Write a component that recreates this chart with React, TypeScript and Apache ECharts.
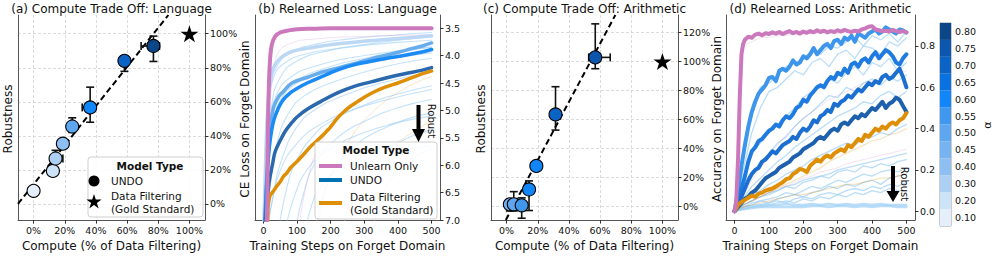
import React, { useEffect, useRef } from "react";
import * as echarts from "echarts";

const FONT = "DejaVu Sans";

// ---------- colour bar (alpha) ----------
const alphaLevels = [0.1, 0.2, 0.3, 0.4, 0.45, 0.5, 0.55, 0.6, 0.65, 0.7, 0.75, 0.8];
const alphaLabels = ["0.10", "0.20", "0.30", "0.40", "0.45", "0.50", "0.55", "0.60", "0.65", "0.70", "0.75", "0.80"];
const alphaColors = ["#e4effb", "#cde3f8", "#abd0f4", "#8dbff2", "#76b3f0", "#5ea6ef", "#3f97ee", "#1186f8", "#0a72e0", "#0b63c6", "#0c56ad", "#0b4688"];

// ---------- (a) compute trade-off: language ----------
const langCompute = [0, 12.4, 14.1, 18.8, 24.8, 36.3, 58.3, 76.9];
const langRobust = [7.7, 19.4, 26.7, 35.4, 45.5, 56.7, 84.1, 92.8];
const langAlpha = [0.1, 0.2, 0.3, 0.4, 0.5, 0.6, 0.7, 0.8];
const langXErrLo = [0, 12.4, 12.5, 18.0, 23.8, 31.2, 57.0, 69.0];
const langXErrHi = [0, 12.4, 18.8, 19.8, 25.8, 38.0, 60.0, 80.8];
const langYErrLo = [7.7, 19.4, 24.0, 33.5, 42.0, 48.0, 77.9, 83.7];
const langYErrHi = [7.7, 19.4, 31.5, 37.0, 50.6, 68.6, 87.0, 98.6];
const langFitX = [-10, 86.5];
const langFitY = [0, 111];

// gold standard
const goldCompute = [100];
const goldRobust = [100];

// ---------- (c) compute trade-off: arithmetic ----------
const arithCompute = [2.1, 4.6, 9.7, 14.4, 19.1, 31.4, 56.9];
const arithRobust = [1.6, 1.6, 0.9, 11.8, 28.0, 63.5, 102.8];
const arithAlpha = [0.45, 0.5, 0.55, 0.6, 0.6, 0.7, 0.75];
const arithXErrLo = [2.1, 4.6, 9.7, 14.4, 18.0, 31.4, 52.7];
const arithXErrHi = [2.1, 4.6, 9.7, 14.4, 20.2, 31.4, 66.5];
const arithYErrLo = [-3, -3, -8, -2.7, 26.0, 52.7, 95];
const arithYErrHi = [5, 10.3, 6, 17.7, 30.5, 82.6, 125.9];
const arithFitX = [-0.5, 69.8];
const arithFitY = [-9.2, 132];

// ---------- (b) relearned loss: language  ([step, CE loss]) ----------
const bUnlearn = [[0, 7.6], [10, 7.0], [13, 5.6], [16, 4.6], [20, 4.05], [25, 3.8], [35, 3.65], [50, 3.58], [75, 3.54], [100, 3.52], [150, 3.51], [200, 3.5], [300, 3.5], [400, 3.5], [500, 3.5]];
const bUndoLight = [[0, 7.4], [5, 6.3], [10, 5.3], [15, 4.8], [20, 4.5], [30, 4.22], [50, 4.05], [75, 3.95], [100, 3.9], [150, 3.85], [200, 3.8], [300, 3.74], [400, 3.69], [500, 3.64]];
const bUndoMid = [[0, 7.5], [5, 6.9], [10, 6.2], [15, 5.7], [20, 5.35], [30, 4.95], [45, 4.75], [60, 4.65], [85, 4.5], [130, 4.4], [175, 4.3], [225, 4.22], [275, 4.14], [325, 4.05], [375, 3.98], [425, 3.9], [475, 3.82], [500, 3.77]];
const bUndoBright = [[0, 7.6], [5, 7.0], [10, 6.3], [15, 5.85], [20, 5.55], [30, 5.2], [45, 4.95], [60, 4.8], [80, 4.68], [100, 4.6], [130, 4.5], [175, 4.38], [225, 4.25], [275, 4.16], [325, 4.1], [375, 4.04], [425, 3.99], [475, 3.93], [500, 3.89]];
const bUndoDark = [[0, 7.6], [5, 7.1], [8, 6.9], [12, 6.6], [16, 6.35], [20, 6.2], [28, 5.95], [35, 5.75], [50, 5.55], [65, 5.38], [85, 5.22], [100, 5.12], [130, 4.98], [170, 4.84], [220, 4.68], [270, 4.56], [320, 4.48], [370, 4.4], [420, 4.33], [470, 4.27], [500, 4.22]];
const bFilter = [[0, 7.6], [12, 7.05], [14, 6.75], [17, 6.62], [20, 6.55], [30, 6.47], [40, 6.38], [50, 6.3], [60, 6.2], [70, 6.14], [80, 6.05], [100, 5.93], [120, 5.8], [140, 5.66], [160, 5.55], [180, 5.43], [200, 5.3], [220, 5.14], [240, 5.02], [260, 4.92], [280, 4.84], [300, 4.76], [330, 4.66], [360, 4.58], [400, 4.5], [430, 4.43], [460, 4.36], [500, 4.28]];

const bThinBlue = [
  [[0, 7.4], [10, 5.5], [20, 4.6], [40, 4.2], [80, 3.95], [150, 3.8], [250, 3.7], [400, 3.62], [500, 3.58]],
  [[0, 7.4], [10, 6.0], [25, 4.9], [50, 4.4], [100, 4.1], [200, 3.9], [300, 3.8], [400, 3.72], [500, 3.66]],
  [[0, 7.4], [15, 6.0], [30, 5.2], [60, 4.7], [100, 4.45], [200, 4.2], [300, 4.05], [400, 3.93], [500, 3.84]],
  [[0, 7.4], [20, 6.4], [40, 5.6], [80, 5.0], [130, 4.7], [200, 4.5], [300, 4.3], [400, 4.15], [500, 4.05]],
  [[10, 7.4], [30, 6.5], [60, 5.8], [100, 5.3], [150, 5.0], [250, 4.7], [350, 4.5], [500, 4.3]],
  [[40, 7.4], [70, 6.4], [100, 5.9], [150, 5.45], [200, 5.2], [300, 4.9], [400, 4.7], [500, 4.55]],
  [[90, 7.4], [120, 6.5], [160, 5.9], [220, 5.5], [300, 5.2], [400, 4.95], [500, 4.8]],
  [[150, 7.4], [180, 6.5], [220, 6.0], [280, 5.6], [350, 5.35], [430, 5.15], [500, 5.05]],
  [[230, 7.4], [260, 6.6], [300, 6.1], [360, 5.75], [430, 5.5], [500, 5.35]],
  [[320, 7.4], [350, 6.6], [400, 6.1], [450, 5.85], [500, 5.7]],
  [[0, 7.4], [8, 5.8], [15, 4.9], [30, 4.4], [60, 4.15], [120, 3.98], [250, 3.85], [400, 3.76], [500, 3.72]],
  [[0, 7.4], [25, 6.7], [50, 6.1], [100, 5.6], [170, 5.25], [260, 5.0], [370, 4.8], [500, 4.62]],
  [[60, 7.4], [90, 6.6], [140, 6.0], [200, 5.7], [280, 5.45], [380, 5.25], [500, 5.1]],
  [[0, 7.4], [12, 6.2], [25, 5.4], [50, 4.85], [100, 4.5], [200, 4.25], [320, 4.1], [500, 3.95]],
  [[120, 7.4], [140, 6.8], [170, 6.4], [220, 6.1], [300, 5.9], [400, 5.75], [500, 5.65]],
  [[0, 7.4], [5, 6.5], [10, 5.9], [20, 5.2], [40, 4.7], [80, 4.4], [150, 4.2], [300, 4.0], [500, 3.85]],
];
const bThinPink = [
  [[0, 7.4], [15, 5.5], [25, 4.5], [40, 4.0], [80, 3.78], [150, 3.7], [300, 3.65], [500, 3.62]],
  [[100, 7.4], [130, 6.3], [170, 5.6], [230, 5.1], [320, 4.7], [420, 4.45], [500, 4.3]],
];
const bThinOrange = [
  [[150, 7.4], [200, 6.2], [260, 5.5], [330, 5.0], [420, 4.6], [500, 4.38]],
  [[250, 7.4], [300, 6.4], [360, 5.8], [430, 5.45], [500, 5.2]],
];

// ---------- (d) relearned accuracy: arithmetic ----------
const dSteps10 = [0, 10, 20, 30, 40, 50, 60, 70, 80, 90, 100, 110, 120, 130, 140, 150, 160, 170, 180, 190, 200, 210, 220, 230, 240, 250, 260, 270, 280, 290, 300, 310, 320, 330, 340, 350, 360, 370, 380, 390, 400, 410, 420, 430, 440, 450, 460, 470, 480, 490, 500];
const dSteps25 = [0, 25, 50, 75, 100, 125, 150, 175, 200, 225, 250, 275, 300, 325, 350, 375, 400, 425, 450, 475, 500];
const dUnlearnSteps = [0, 5, 10, 15, 20, 25, 30, 40, 50, 60, 70, 80, 90, 100, 110, 120, 130, 140, 150, 160, 170, 180, 190, 200, 210, 220, 230, 240, 250, 260, 270, 280, 290, 300, 310, 320, 330, 340, 350, 360, 370, 380, 390, 400, 410, 420, 430, 440, 450, 460, 470, 480, 490, 500];
const dUnlearn = [0, 0.05, 0.25, 0.55, 0.76, 0.81, 0.83, 0.845, 0.84, 0.855, 0.86, 0.852, 0.862, 0.858, 0.866, 0.86, 0.868, 0.858, 0.866, 0.872, 0.862, 0.868, 0.86, 0.87, 0.864, 0.872, 0.866, 0.876, 0.868, 0.874, 0.866, 0.872, 0.868, 0.876, 0.87, 0.878, 0.872, 0.868, 0.874, 0.87, 0.88, 0.885, 0.893, 0.896, 0.88, 0.876, 0.872, 0.874, 0.87, 0.878, 0.872, 0.868, 0.872, 0.866];
const dUndo1 = [0, 0.1, 0.22, 0.32, 0.41, 0.48, 0.53, 0.57, 0.59, 0.61, 0.645, 0.65, 0.63, 0.68, 0.69, 0.68, 0.7, 0.73, 0.71, 0.72, 0.75, 0.74, 0.76, 0.79, 0.76, 0.78, 0.8, 0.81, 0.79, 0.825, 0.83, 0.81, 0.84, 0.83, 0.85, 0.82, 0.86, 0.85, 0.84, 0.86, 0.87, 0.88, 0.86, 0.87, 0.89, 0.88, 0.87, 0.86, 0.88, 0.875, 0.865];
const dUndo2 = [0, 0.05, 0.11, 0.17, 0.24, 0.29, 0.31, 0.34, 0.35, 0.37, 0.39, 0.4, 0.42, 0.41, 0.44, 0.46, 0.45, 0.47, 0.5, 0.51, 0.54, 0.53, 0.56, 0.58, 0.6, 0.61, 0.6, 0.63, 0.65, 0.64, 0.67, 0.66, 0.69, 0.67, 0.71, 0.72, 0.7, 0.73, 0.74, 0.72, 0.75, 0.77, 0.74, 0.76, 0.78, 0.77, 0.75, 0.72, 0.71, 0.74, 0.76];
const dUndo3 = [0, 0.03, 0.07, 0.11, 0.15, 0.18, 0.2, 0.21, 0.24, 0.25, 0.27, 0.29, 0.28, 0.3, 0.32, 0.33, 0.34, 0.36, 0.35, 0.38, 0.4, 0.39, 0.41, 0.44, 0.43, 0.46, 0.47, 0.49, 0.48, 0.52, 0.51, 0.53, 0.54, 0.56, 0.55, 0.57, 0.59, 0.58, 0.6, 0.62, 0.61, 0.63, 0.62, 0.65, 0.66, 0.64, 0.65, 0.67, 0.69, 0.65, 0.6];
const dUndo4 = [0, 0.02, 0.04, 0.06, 0.07, 0.09, 0.1, 0.12, 0.14, 0.16, 0.17, 0.18, 0.19, 0.21, 0.22, 0.23, 0.24, 0.26, 0.27, 0.28, 0.3, 0.31, 0.32, 0.33, 0.35, 0.36, 0.35, 0.37, 0.39, 0.4, 0.39, 0.42, 0.43, 0.42, 0.44, 0.46, 0.45, 0.47, 0.46, 0.48, 0.5, 0.49, 0.51, 0.53, 0.5, 0.52, 0.53, 0.55, 0.54, 0.51, 0.48];
const dFilter = [0, 0.03, 0.045, 0.055, 0.065, 0.075, 0.07, 0.085, 0.09, 0.1, 0.105, 0.11, 0.12, 0.13, 0.14, 0.155, 0.16, 0.18, 0.19, 0.205, 0.2, 0.19, 0.22, 0.235, 0.25, 0.24, 0.26, 0.27, 0.26, 0.28, 0.29, 0.3, 0.29, 0.32, 0.31, 0.33, 0.35, 0.34, 0.37, 0.36, 0.38, 0.4, 0.39, 0.41, 0.4, 0.42, 0.43, 0.42, 0.44, 0.45, 0.475];

const dThinBlue = [
  [0, 0.3, 0.5, 0.6, 0.62, 0.66, 0.7, 0.72, 0.74, 0.78, 0.76, 0.8, 0.79, 0.82, 0.84, 0.8, 0.85, 0.83, 0.86, 0.82, 0.87],
  [0, 0.2, 0.38, 0.5, 0.58, 0.6, 0.64, 0.68, 0.66, 0.72, 0.74, 0.7, 0.76, 0.78, 0.74, 0.8, 0.79, 0.76, 0.82, 0.8, 0.84],
  [0, 0.15, 0.28, 0.33, 0.38, 0.42, 0.46, 0.5, 0.55, 0.58, 0.6, 0.64, 0.62, 0.67, 0.7, 0.66, 0.72, 0.7, 0.74, 0.68, 0.72],
  [0, 0.1, 0.18, 0.24, 0.28, 0.33, 0.36, 0.41, 0.45, 0.48, 0.52, 0.56, 0.55, 0.6, 0.58, 0.62, 0.64, 0.61, 0.65, 0.63, 0.66],
  [0, 0.06, 0.12, 0.16, 0.2, 0.24, 0.27, 0.31, 0.34, 0.37, 0.4, 0.43, 0.46, 0.48, 0.5, 0.53, 0.52, 0.56, 0.58, 0.55, 0.58],
  [0, 0.04, 0.08, 0.1, 0.13, 0.15, 0.18, 0.2, 0.22, 0.25, 0.27, 0.29, 0.31, 0.33, 0.32, 0.35, 0.36, 0.38, 0.37, 0.4, 0.42],
  [0, 0.03, 0.05, 0.07, 0.08, 0.1, 0.12, 0.11, 0.14, 0.15, 0.17, 0.16, 0.19, 0.2, 0.19, 0.22, 0.21, 0.23, 0.22, 0.24, 0.25],
  [0, 0.02, 0.04, 0.05, 0.06, 0.07, 0.09, 0.08, 0.1, 0.12, 0.11, 0.13, 0.15, 0.14, 0.16, 0.18, 0.17, 0.19, 0.2, 0.19, 0.21],
  [0, 0.02, 0.03, 0.05, 0.04, 0.06, 0.07, 0.08, 0.07, 0.09, 0.1, 0.12, 0.11, 0.13, 0.12, 0.14, 0.15, 0.13, 0.16, 0.17, 0.18],
  [0, 0.01, 0.02, 0.03, 0.04, 0.05, 0.04, 0.06, 0.07, 0.06, 0.08, 0.09, 0.08, 0.1, 0.11, 0.1, 0.12, 0.11, 0.13, 0.12, 0.14],
  [0, 0.01, 0.02, 0.02, 0.03, 0.04, 0.05, 0.04, 0.06, 0.05, 0.07, 0.06, 0.08, 0.07, 0.09, 0.08, 0.1, 0.09, 0.11, 0.1, 0.1],
  [0, 0.03, 0.05, 0.07, 0.09, 0.1, 0.12, 0.13, 0.15, 0.16, 0.17, 0.18, 0.2, 0.21, 0.22, 0.23, 0.24, 0.25, 0.26, 0.27, 0.28],
  [0, 0.01, 0.015, 0.02, 0.02, 0.02, 0.02, 0.02, 0.02, 0.025, 0.025, 0.02, 0.025, 0.025, 0.02, 0.025, 0.02, 0.025, 0.025, 0.02, 0.02],
  [0, 0.02, 0.025, 0.03, 0.03, 0.03, 0.035, 0.03, 0.03, 0.035, 0.03, 0.035, 0.03, 0.035, 0.03, 0.035, 0.03, 0.035, 0.03, 0.03, 0.03],
];
const dThinPink = [
  [0, 0.8, 0.82, 0.84, 0.84, 0.85, 0.85, 0.86, 0.86, 0.86, 0.86, 0.87, 0.86, 0.87, 0.87, 0.86, 0.87, 0.87, 0.87, 0.86, 0.87],
  [0, 0.08, 0.15, 0.21, 0.27, 0.32, 0.37, 0.41, 0.45, 0.48, 0.51, 0.54, 0.56, 0.58, 0.6, 0.62, 0.63, 0.65, 0.66, 0.67, 0.68],
  [0, 0.03, 0.05, 0.07, 0.09, 0.11, 0.12, 0.14, 0.16, 0.17, 0.19, 0.2, 0.21, 0.23, 0.24, 0.25, 0.26, 0.27, 0.28, 0.29, 0.3],
];
const dThinOrange = [
  [0, 0.03, 0.05, 0.07, 0.09, 0.11, 0.13, 0.15, 0.17, 0.19, 0.21, 0.24, 0.26, 0.28, 0.3, 0.32, 0.34, 0.35, 0.37, 0.38, 0.4],
  [0, 0.02, 0.03, 0.04, 0.05, 0.06, 0.07, 0.08, 0.08, 0.09, 0.1, 0.11, 0.12, 0.13, 0.13, 0.14, 0.15, 0.16, 0.16, 0.17, 0.18],
];

// ---------- axis ticks ----------
const pctTicks = [0, 20, 40, 60, 80, 100];
const pctTicksC = [0, 20, 40, 60, 80, 100, 120];
const stepTicks = [0, 100, 200, 300, 400, 500];
const lossTicks = [3.5, 4.0, 4.5, 5.0, 5.5, 6.0, 6.5, 7.0];
const accTicks = [0, 0.2, 0.4, 0.6, 0.8];

// ---------- styling ----------
const PINK = "#cc78bc";
const ORANGE = "#de8f05";
const UNDO_BLUE = "#0173b2";
const THIN_BLUE = "#9ccff5";
const SPINE = "#555";
const STAR_PATH = "path://M0,-1L0.2245,-0.309L0.951,-0.309L0.363,0.118L0.588,0.809L0,0.382L-0.588,0.809L-0.363,0.118L-0.951,-0.309L-0.2245,-0.309Z";

const colorFor = (a: number) => alphaColors[alphaLevels.indexOf(a)];
const zip = (xs: number[], ys: number[]) => xs.map((x, i) => [x, ys[i]]);

function starPoints(cx: number, cy: number, R: number) {
  const pts: number[][] = [];
  for (let i = 0; i < 10; i++) {
    const r = i % 2 === 0 ? R : R * 0.382;
    const a = -Math.PI / 2 + (i * Math.PI) / 5;
    pts.push([cx + r * Math.cos(a), cy + r * Math.sin(a)]);
  }
  return pts;
}

function xAxisDef(gridIndex: number, min: number, max: number, ticks: number[], fmt: (v: number) => string, name: string, split: boolean) {
  return {
    type: "value", gridIndex, min, max,
    axisLine: { show: true, onZero: false, lineStyle: { color: SPINE, width: 1 } },
    axisTick: { show: true, customValues: ticks, length: 3.5, lineStyle: { color: "#333" } },
    axisLabel: { customValues: ticks, formatter: fmt, fontSize: 9.5, color: "#111", margin: 5, fontFamily: FONT },
    splitLine: { show: split, lineStyle: { type: [3, 2], color: "#d2d2d2", width: 0.8 } },
    name, nameLocation: "middle", nameGap: 17,
    nameTextStyle: { fontSize: 12, color: "#111", fontFamily: FONT },
  };
}
function yAxisDef(gridIndex: number, min: number, max: number, ticks: number[], fmt: (v: number) => string, split: boolean, inverse = false) {
  return {
    type: "value", gridIndex, min, max, inverse, position: "right",
    axisLine: { show: true, onZero: false, lineStyle: { color: SPINE, width: 1 } },
    axisTick: { show: true, customValues: ticks, length: 3.5, lineStyle: { color: "#333" } },
    axisLabel: { customValues: ticks, formatter: fmt, fontSize: 9.5, color: "#111", margin: 5, fontFamily: FONT },
    splitLine: { show: split, lineStyle: { type: [3, 2], color: "#d2d2d2", width: 0.8 } },
  };
}
function leftSpine(gridIndex: number) {
  return {
    type: "value", gridIndex, min: 0, max: 1, position: "left",
    axisLine: { show: true, onZero: false, lineStyle: { color: SPINE, width: 1 } },
    axisTick: { show: false }, axisLabel: { show: false }, splitLine: { show: false },
  };
}

function errRender(params: any, api: any) {
  const x = api.value(0), y = api.value(1);
  const xlo = api.value(2), xhi = api.value(3), ylo = api.value(4), yhi = api.value(5);
  const c = api.coord([x, y]);
  const style = { stroke: "#111", lineWidth: 1.6, fill: "none" };
  const cap = 4;
  const children: any[] = [];
  if (yhi - ylo > 0.01) {
    const a = api.coord([x, ylo]), b = api.coord([x, yhi]);
    children.push({ type: "line", shape: { x1: c[0], y1: a[1], x2: c[0], y2: b[1] }, style });
    children.push({ type: "line", shape: { x1: c[0] - cap, y1: a[1], x2: c[0] + cap, y2: a[1] }, style });
    children.push({ type: "line", shape: { x1: c[0] - cap, y1: b[1], x2: c[0] + cap, y2: b[1] }, style });
  }
  if (xhi - xlo > 0.01) {
    const a = api.coord([xlo, y]), b = api.coord([xhi, y]);
    children.push({ type: "line", shape: { x1: a[0], y1: c[1], x2: b[0], y2: c[1] }, style });
    children.push({ type: "line", shape: { x1: a[0], y1: c[1] - cap, x2: a[0], y2: c[1] + cap }, style });
    children.push({ type: "line", shape: { x1: b[0], y1: c[1] - cap, x2: b[0], y2: c[1] + cap }, style });
  }
  return { type: "group", children };
}

function tradeOffSeries(idx: number, xs: number[], ys: number[], alphas: number[], xlo: number[], xhi: number[], ylo: number[], yhi: number[], fitX: number[], fitY: number[]) {
  const yIdx = idx * 2;
  return [
    {
      type: "line", xAxisIndex: idx, yAxisIndex: yIdx, data: zip(fitX, fitY), showSymbol: false, silent: true,
      lineStyle: { color: "#000", width: 2, type: [6, 3.5] }, z: 2,
    },
    {
      type: "custom", xAxisIndex: idx, yAxisIndex: yIdx, renderItem: errRender, clip: true,
      encode: { x: 0, y: 1 },
      data: xs.map((x, i) => [x, ys[i], xlo[i], xhi[i], ylo[i], yhi[i]]), z: 3, silent: true,
    },
    {
      type: "scatter", xAxisIndex: idx, yAxisIndex: yIdx, symbolSize: 13, z: 4, silent: true,
      data: xs.map((x, i) => ({ value: [x, ys[i]], itemStyle: { color: colorFor(alphas[i]), borderColor: "#000", borderWidth: 1.1, opacity: 1 } })),
    },
    {
      type: "scatter", xAxisIndex: idx, yAxisIndex: yIdx, symbol: STAR_PATH, symbolKeepAspect: true, symbolSize: 18, z: 4, silent: true,
      itemStyle: { color: "#000", opacity: 1 }, data: zip(goldCompute, goldRobust),
    },
  ];
}

function lineS(idx: number, data: number[][], color: string, width: number, opacity: number, z: number, smooth: boolean | number) {
  return {
    type: "line", xAxisIndex: idx, yAxisIndex: idx * 2, data, showSymbol: false, silent: true, smooth,
    lineStyle: { color, width, opacity, cap: "round", join: "round" }, z,
  };
}

function buildOption() {
  const series: any[] = [];
  series.push(...tradeOffSeries(0, langCompute, langRobust, langAlpha, langXErrLo, langXErrHi, langYErrLo, langYErrHi, langFitX, langFitY));
  series.push(...tradeOffSeries(2, arithCompute, arithRobust, arithAlpha, arithXErrLo, arithXErrHi, arithYErrLo, arithYErrHi, arithFitX, arithFitY));

  // (b)
  bThinBlue.forEach((d) => series.push(lineS(1, d, THIN_BLUE, 1.1, 0.6, 1, true)));
  bThinPink.forEach((d) => series.push(lineS(1, d, PINK, 1, 0.22, 1, true)));
  bThinOrange.forEach((d) => series.push(lineS(1, d, ORANGE, 1, 0.22, 1, true)));
  series.push(lineS(1, bUndoLight, "#bcd8f4", 3.5, 1, 2, 0.4));
  series.push(lineS(1, bUndoMid, "#68acec", 3.5, 1, 2, 0.4));
  series.push(lineS(1, bUndoBright, "#1a8af5", 3.5, 1, 2, 0.4));
  series.push(lineS(1, bUndoDark, "#2a69ad", 3.5, 1, 2, 0.4));
  series.push(lineS(1, bFilter, ORANGE, 3.5, 1, 3, 0.3));
  series.push(lineS(1, bUnlearn, PINK, 4, 1, 3, 0.4));

  // (d)
  dThinBlue.forEach((d, i) => series.push(lineS(3, zip(dSteps25, d), THIN_BLUE, i >= 12 ? 2.5 : 1.3, 0.7, 1, false)));
  dThinPink.forEach((d) => series.push(lineS(3, zip(dSteps25, d), PINK, 1, 0.22, 1, false)));
  dThinOrange.forEach((d) => series.push(lineS(3, zip(dSteps25, d), ORANGE, 1.2, 0.25, 1, false)));
  series.push(lineS(3, zip(dSteps10, dUndo1), "#3d96ec", 4, 1, 2, false));
  series.push(lineS(3, zip(dSteps10, dUndo2), "#1f7bdf", 4, 1, 2, false));
  series.push(lineS(3, zip(dSteps10, dUndo3), "#1a6fd0", 4, 1, 2, false));
  series.push(lineS(3, zip(dSteps10, dUndo4), "#1d60ad", 4, 1, 2, false));
  series.push(lineS(3, zip(dSteps10, dFilter), ORANGE, 4, 1, 3, false));
  series.push(lineS(3, zip(dUnlearnSteps, dUnlearn), PINK, 4, 1, 3, false));

  // colour bar
  series.push({
    type: "bar", xAxisIndex: 4, yAxisIndex: 8, barWidth: "100%", silent: true,
    data: alphaLevels.map((_, i) => ({ value: 1, itemStyle: { color: alphaColors[i], opacity: 1 } })),
  });

  const pct = (v: number) => `${Math.round(v)}%`;
  const int = (v: number) => `${Math.round(v)}`;
  const one = (v: number) => v.toFixed(1);

  const T = (text: string, x: number, y: number, opts: any = {}) => ({
    type: "text", x, y, z: 50, rotation: opts.rotation || 0, silent: true,
    style: {
      text, fill: "#111", fontSize: opts.size || 12, fontFamily: FONT, fontWeight: opts.weight || "normal",
      align: opts.align || "center", verticalAlign: "middle", lineHeight: opts.lh || undefined,
    },
  });

  const graphic: any[] = [
    // titles
    T("(a) Compute Trade Off: Language", 111.5, 8.5),
    T("(b) Relearned Loss: Language", 347.5, 8.5),
    T("(c) Compute Trade Off: Arithmetic", 584.5, 8.5),
    T("(d) Relearned Loss: Arithmetic", 820.5, 8.5),
    // y axis names
    T("Robustness", 8, 119, { rotation: Math.PI / 2 }),
    T("CE Loss on Forget Domain", 245, 119, { rotation: Math.PI / 2 }),
    T("Robustness", 481, 119, { rotation: Math.PI / 2 }),
    T("Accuracy on Forget Domain", 717, 119, { rotation: Math.PI / 2 }),
    T("α", 987, 125, { rotation: Math.PI / 2, size: 11 }),
    // legend (a)
    { type: "rect", z: 49, silent: true, shape: { x: 88, y: 157, width: 115, height: 60, r: 3 }, style: { fill: "rgba(255,255,255,0.85)", stroke: "#cfcfcf", lineWidth: 1 } },
    T("Model Type", 150, 166, { weight: "bold", size: 10.5 }),
    { type: "circle", z: 50, silent: true, shape: { cx: 94, cy: 181, r: 5.5 }, style: { fill: "#000" } },
    T("UNDO", 111, 181, { align: "left", size: 10.5 }),
    { type: "polygon", z: 50, silent: true, shape: { points: starPoints(94, 202, 8) }, style: { fill: "#000" } },
    T("Data Filtering\n(Gold Standard)", 111, 202, { align: "left", size: 10.5, lh: 13 }),
    // legend (b)
    { type: "rect", z: 49, silent: true, shape: { x: 315, y: 142, width: 122, height: 77, r: 3 }, style: { fill: "rgba(255,255,255,0.85)", stroke: "#cfcfcf", lineWidth: 1 } },
    T("Model Type", 376, 150, { weight: "bold", size: 10.5 }),
    { type: "line", z: 50, silent: true, shape: { x1: 319, y1: 166, x2: 342, y2: 166 }, style: { stroke: PINK, lineWidth: 4 } },
    T("Unlearn Only", 350, 166, { align: "left", size: 10.5 }),
    { type: "line", z: 50, silent: true, shape: { x1: 319, y1: 180, x2: 342, y2: 180 }, style: { stroke: UNDO_BLUE, lineWidth: 4 } },
    T("UNDO", 350, 180, { align: "left", size: 10.5 }),
    { type: "line", z: 50, silent: true, shape: { x1: 319, y1: 203, x2: 342, y2: 203 }, style: { stroke: ORANGE, lineWidth: 4 } },
    T("Data Filtering\n(Gold Standard)", 350, 203, { align: "left", size: 10.5, lh: 13 }),
    // robust arrows
    { type: "polygon", z: 50, silent: true, shape: { points: [[416.5, 105], [420.5, 105], [420.5, 129], [425, 129], [418.5, 142], [412, 129], [416.5, 129]] }, style: { fill: "#000" } },
    T("Robust", 431, 121, { rotation: -Math.PI / 2, size: 10 }),
    { type: "polygon", z: 50, silent: true, shape: { points: [[891, 166], [895, 166], [895, 191], [899.5, 191], [893, 202], [886.5, 191], [891, 191]] }, style: { fill: "#000" } },
    T("Robust", 904, 184, { rotation: -Math.PI / 2, size: 10 }),
  ];

  return {
    animation: false,
    backgroundColor: "#fff",
    textStyle: { fontFamily: FONT },
    grid: [
      { left: 18, top: 15, width: 187, height: 208 },
      { left: 255, top: 15, width: 185, height: 208 },
      { left: 491, top: 15, width: 187, height: 208 },
      { left: 726, top: 15, width: 189, height: 208 },
      { left: 940, top: 23, width: 11, height: 203, show: true, borderColor: "#999", borderWidth: 1 },
    ],
    xAxis: [
      xAxisDef(0, -10, 110, pctTicks, pct, "Compute (% of Data Filtering)", true),
      xAxisDef(1, -25, 525, stepTicks, int, "Training Steps on Forget Domain", false),
      xAxisDef(2, -10, 110, pctTicks, pct, "Compute (% of Data Filtering)", true),
      xAxisDef(3, -25, 525, stepTicks, int, "Training Steps on Forget Domain", false),
      { type: "value", gridIndex: 4, min: 0, max: 1, show: false },
    ],
    yAxis: [
      yAxisDef(0, -9.5, 111, pctTicks, pct, true), leftSpine(0),
      yAxisDef(1, 3.26, 7.0, lossTicks, one, false, true), leftSpine(1),
      yAxisDef(2, -9.3, 132, pctTicksC, pct, true), leftSpine(2),
      yAxisDef(3, -0.043, 0.95, accTicks, one, false), leftSpine(3),
      {
        type: "category", gridIndex: 4, position: "right", data: alphaLabels,
        axisLine: { show: false }, axisTick: { show: true, alignWithLabel: true, length: 3, lineStyle: { color: "#333" } },
        axisLabel: { fontSize: 9.5, color: "#111", margin: 4, fontFamily: FONT },
      },
    ],
    series,
    graphic,
  };
}

export default function App() {
  const ref = useRef<HTMLDivElement>(null);
  useEffect(() => {
    document.body.style.margin = "0";
    const chart = echarts.init(ref.current!, null, { renderer: "svg", width: 996, height: 257 });
    chart.setOption(buildOption() as any);
    return () => chart.dispose();
  }, []);
  return <div ref={ref} style={{ width: 996, height: 257 }} />;
}
